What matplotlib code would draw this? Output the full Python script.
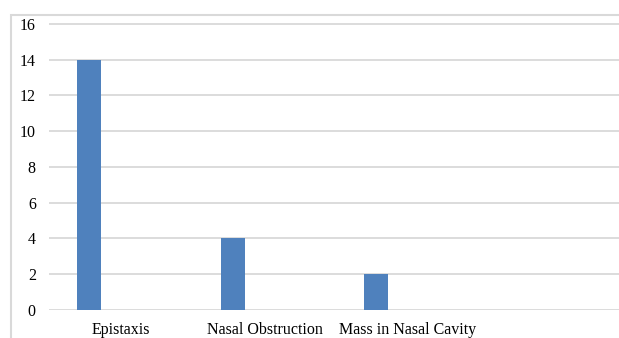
import matplotlib
matplotlib.use("Agg")
import matplotlib.pyplot as plt
from matplotlib.patches import Rectangle

categories = ["Epistaxis", "Nasal Obstruction", "Mass in Nasal Cavity"]
values = [14, 4, 2]
y_ticks = [0, 2, 4, 6, 8, 10, 12, 14, 16]

W, H = 619, 338
fig = plt.figure(figsize=(W / 100, H / 100), dpi=100)
plt.rcParams['font.family'] = ['Liberation Serif']

# axes geometry in pixels
left_px, right_px = 49, 619
bottom_px, top_px = 310, 23.1
ax = fig.add_axes([left_px / W, 1 - bottom_px / H, (right_px - left_px) / W, (bottom_px - top_px) / H])

ax.set_ylim(0, 16.05)
ax.set_xlim(-0.502, 3.47)

x = list(range(len(categories)))
bar_x = [i - 0.223 for i in x]
ax.bar(bar_x, values, width=0.167, color="#4f81bd", zorder=3)

ax.set_yticks(y_ticks)
ax.set_yticklabels([str(v) for v in y_ticks])
ax.set_xticks(x)
ax.set_xticklabels(categories)
ax.tick_params(axis='both', length=0, labelsize=11.5, colors='black')
ax.tick_params(axis='y', pad=9.5)
ax.tick_params(axis='x', pad=8.5)
ax.grid(axis='y', color='#d9d9d9', linewidth=1.3, zorder=0)
for s in ax.spines.values():
    s.set_visible(False)

fig.patches.append(Rectangle((10.5 / W, -0.1), 1.2, 1 - 14.5 / H + 0.1, transform=fig.transFigure,
                             fill=False, edgecolor='#d9d9d9', linewidth=1.5))

fig.savefig("out.png", dpi=100)
